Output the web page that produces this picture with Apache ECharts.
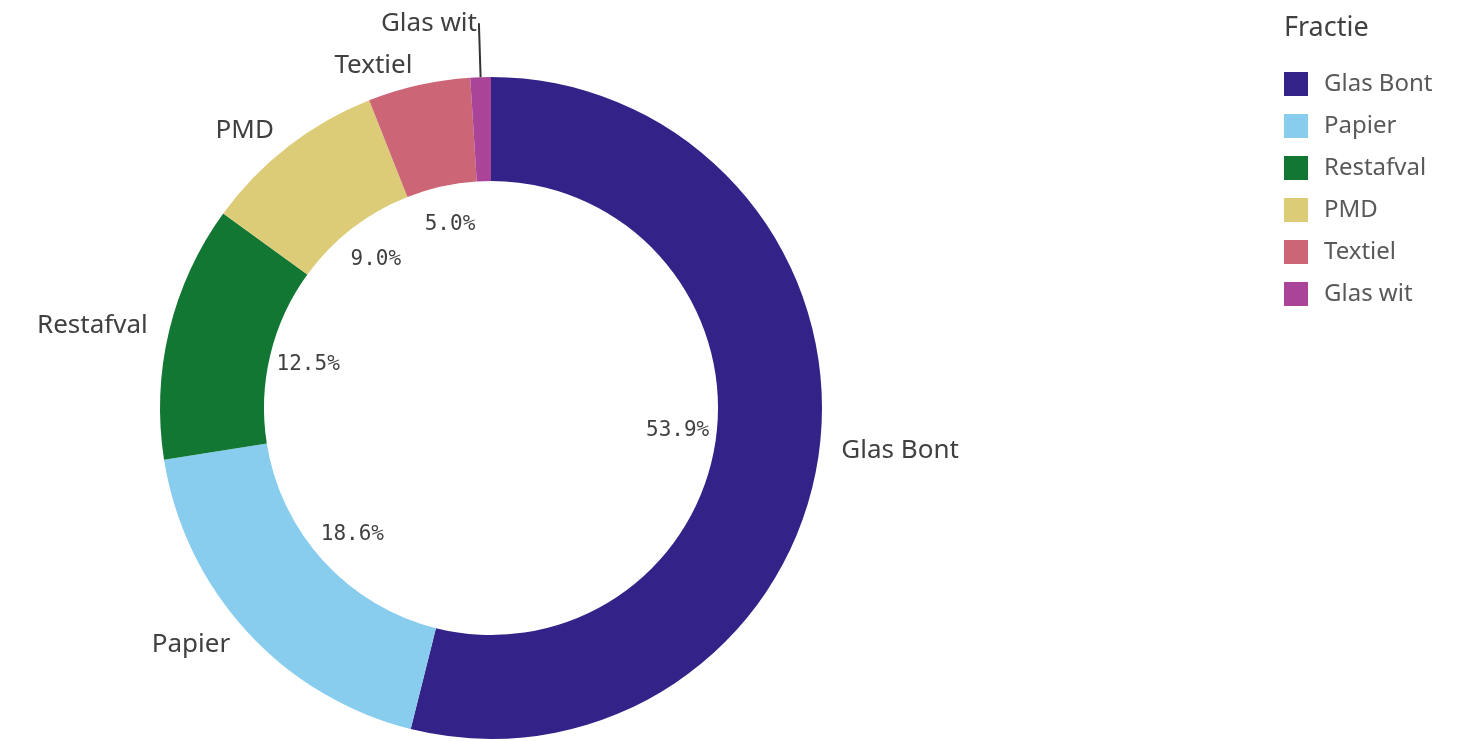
<!DOCTYPE html>
<html>
<head>
<meta charset="utf-8">
<script src="https://cdn.jsdelivr.net/npm/echarts@6/dist/echarts.min.js"></script>
<style>html,body{margin:0;padding:0;background:#fff}#c{width:1483px;height:741px}</style>
</head>
<body>
<div id="c"></div>
<script>
const categories = ['Glas Bont', 'Papier', 'Restafval', 'PMD', 'Textiel', 'Glas wit'];
const values = [53.9, 18.6, 12.5, 9.0, 5.0, 1.0];
const colors = ['#332288', '#88CCEE', '#117733', '#DDCC77', '#CC6677', '#AA4499'];
const legendTitle = 'Fractie';

const font = 'Noto Sans';
const chart = echarts.init(document.getElementById('c'));

const ringData = categories.map((n, i) => {
  const d = { name: n, value: values[i], itemStyle: { color: colors[i] } };
  if (n === 'Glas wit') {
    d.labelLine = { show: true, length: 54, length2: 0, lineStyle: { color: '#333', width: 2 } };
  }
  return d;
});
const pctData = categories.map((n, i) => {
  const d = { name: n, value: values[i] };
  if (values[i] < 2) d.label = { show: false };
  return d;
});

chart.setOption({
  animation: false,
  title: {
    text: legendTitle, left: 1279, top: 10,
    textStyle: { fontFamily: font, fontSize: 27, fontWeight: 'normal', color: '#404040' }
  },
  legend: {
    orient: 'vertical', left: 1279, top: 67,
    itemWidth: 24, itemHeight: 24, itemGap: 18,
    icon: 'rect',
    data: categories,
    textStyle: { fontFamily: font, fontSize: 24, color: '#595959', padding: [0, 0, 0, 11] }
  },
  color: colors,
  series: [
    {
      type: 'pie',
      center: [491, 408],
      radius: [227, 331],
      startAngle: 90,
      clockwise: true,
      silent: true,
      data: ringData,
      label: {
        show: true, position: 'outside', formatter: '{b}',
        fontFamily: font, fontSize: 26, color: '#404040', distanceToLabelLine: 2
      },
      labelLine: { show: false, length: 20, length2: 0 },
      avoidLabelOverlap: false
    },
    {
      type: 'pie',
      center: [491, 408],
      radius: [140, 230],
      startAngle: 90,
      clockwise: true,
      silent: true,
      data: pctData,
      itemStyle: { color: 'rgba(0,0,0,0)' },
      label: {
        show: true, position: 'inside',
        formatter: p => p.value.toFixed(1) + '%',
        fontFamily: 'DejaVu Sans Mono', fontSize: 21, color: '#404040'
      },
      labelLine: { show: false }
    }
  ]
});
</script>
</body>
</html>
